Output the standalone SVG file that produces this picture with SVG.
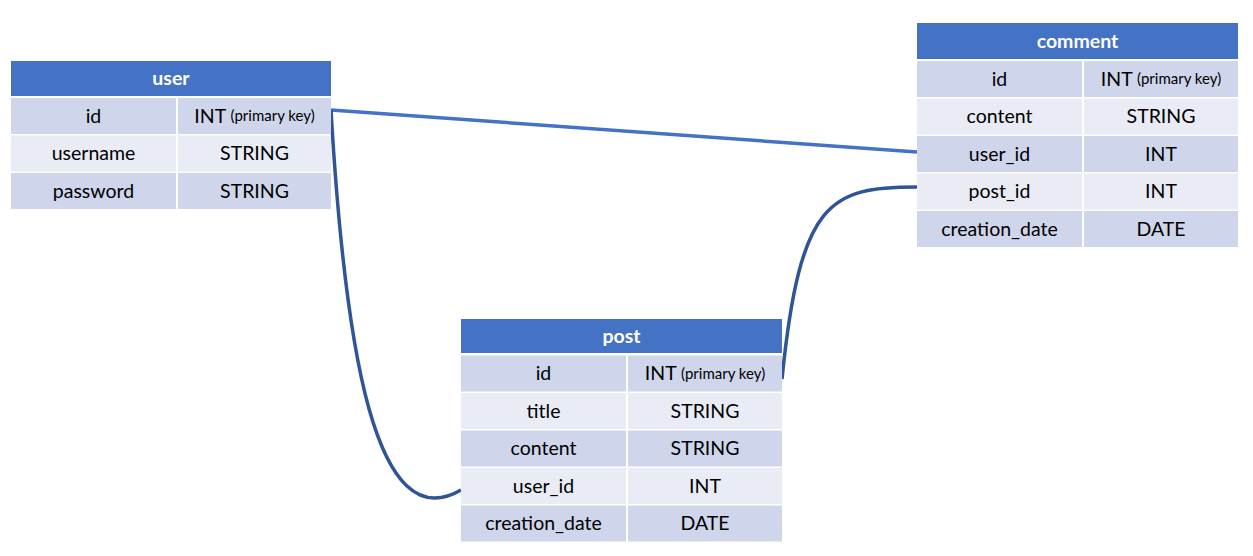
<svg xmlns="http://www.w3.org/2000/svg" width="1253" height="556" viewBox="0 0 1253 556">
<style>
.hd{fill:#4472C4}
.dk{fill:#CFD5EA}
.lt{fill:#E9EBF5}
text{font-family:Lato,"Liberation Sans",sans-serif;font-size:19.5px;fill:#000;text-anchor:middle;dominant-baseline:central}
.ht{fill:#fff;font-weight:bold}
.sm{font-size:15px}
.c1{fill:none;stroke:#4472C4;stroke-width:3.5}
.c2{fill:none;stroke:#2F5597;stroke-width:3.5}
</style>
<rect width="1253" height="556" fill="#fff"/>
<g id="connectors">
<path class="c1" d="M331,110 L917,152"/>
<path class="c2" d="M331,110 C345,350 375,540 461,490"/>
<path class="c2" d="M782,379 C800,200 830,187 917,187"/>
</g>
<g id="user">
<rect class="hd" x="11" y="61" width="320" height="35"/>
<text class="ht" x="171" y="77">user</text>
<rect class="dk" x="11" y="98" width="165" height="36"/><rect class="dk" x="178" y="98" width="153" height="36"/>
<rect class="lt" x="11" y="135.5" width="165" height="36"/><rect class="lt" x="178" y="135.5" width="153" height="36"/>
<rect class="dk" x="11" y="173" width="165" height="36"/><rect class="dk" x="178" y="173" width="153" height="36"/>
<text x="93.5" y="115">id</text><text x="254.5" y="115">INT <tspan class="sm">(primary key)</tspan></text>
<text x="93.5" y="152.5">username</text><text x="254.5" y="152.5">STRING</text>
<text x="93.5" y="190">password</text><text x="254.5" y="190">STRING</text>
</g>
<g id="comment">
<rect class="hd" x="917" y="23" width="321" height="36"/>
<text class="ht" x="1077.5" y="40">comment</text>
<rect class="dk" x="917" y="61" width="165" height="36"/><rect class="dk" x="1084" y="61" width="154" height="36"/>
<rect class="lt" x="917" y="98.5" width="165" height="36"/><rect class="lt" x="1084" y="98.5" width="154" height="36"/>
<rect class="dk" x="917" y="136" width="165" height="36"/><rect class="dk" x="1084" y="136" width="154" height="36"/>
<rect class="lt" x="917" y="173.5" width="165" height="36"/><rect class="lt" x="1084" y="173.5" width="154" height="36"/>
<rect class="dk" x="917" y="211" width="165" height="36"/><rect class="dk" x="1084" y="211" width="154" height="36"/>
<text x="999.5" y="78">id</text><text x="1161" y="78">INT <tspan class="sm">(primary key)</tspan></text>
<text x="999.5" y="115.5">content</text><text x="1161" y="115.5">STRING</text>
<text x="999.5" y="153">user_id</text><text x="1161" y="153">INT</text>
<text x="999.5" y="190.5">post_id</text><text x="1161" y="190.5">INT</text>
<text x="999.5" y="228">creation_date</text><text x="1161" y="228">DATE</text>
</g>
<g id="post">
<rect class="hd" x="461" y="319" width="321" height="34"/>
<text class="ht" x="621.5" y="335">post</text>
<rect class="dk" x="461" y="355.5" width="165" height="36"/><rect class="dk" x="628" y="355.5" width="154" height="36"/>
<rect class="lt" x="461" y="393" width="165" height="36"/><rect class="lt" x="628" y="393" width="154" height="36"/>
<rect class="dk" x="461" y="430.5" width="165" height="36"/><rect class="dk" x="628" y="430.5" width="154" height="36"/>
<rect class="lt" x="461" y="468" width="165" height="36"/><rect class="lt" x="628" y="468" width="154" height="36"/>
<rect class="dk" x="461" y="505.5" width="165" height="36"/><rect class="dk" x="628" y="505.5" width="154" height="36"/>
<text x="543.5" y="372.5">id</text><text x="705" y="372.5">INT <tspan class="sm">(primary key)</tspan></text>
<text x="543.5" y="410">title</text><text x="705" y="410">STRING</text>
<text x="543.5" y="447.5">content</text><text x="705" y="447.5">STRING</text>
<text x="543.5" y="485">user_id</text><text x="705" y="485">INT</text>
<text x="543.5" y="522.5">creation_date</text><text x="705" y="522.5">DATE</text>
</g>
</svg>
